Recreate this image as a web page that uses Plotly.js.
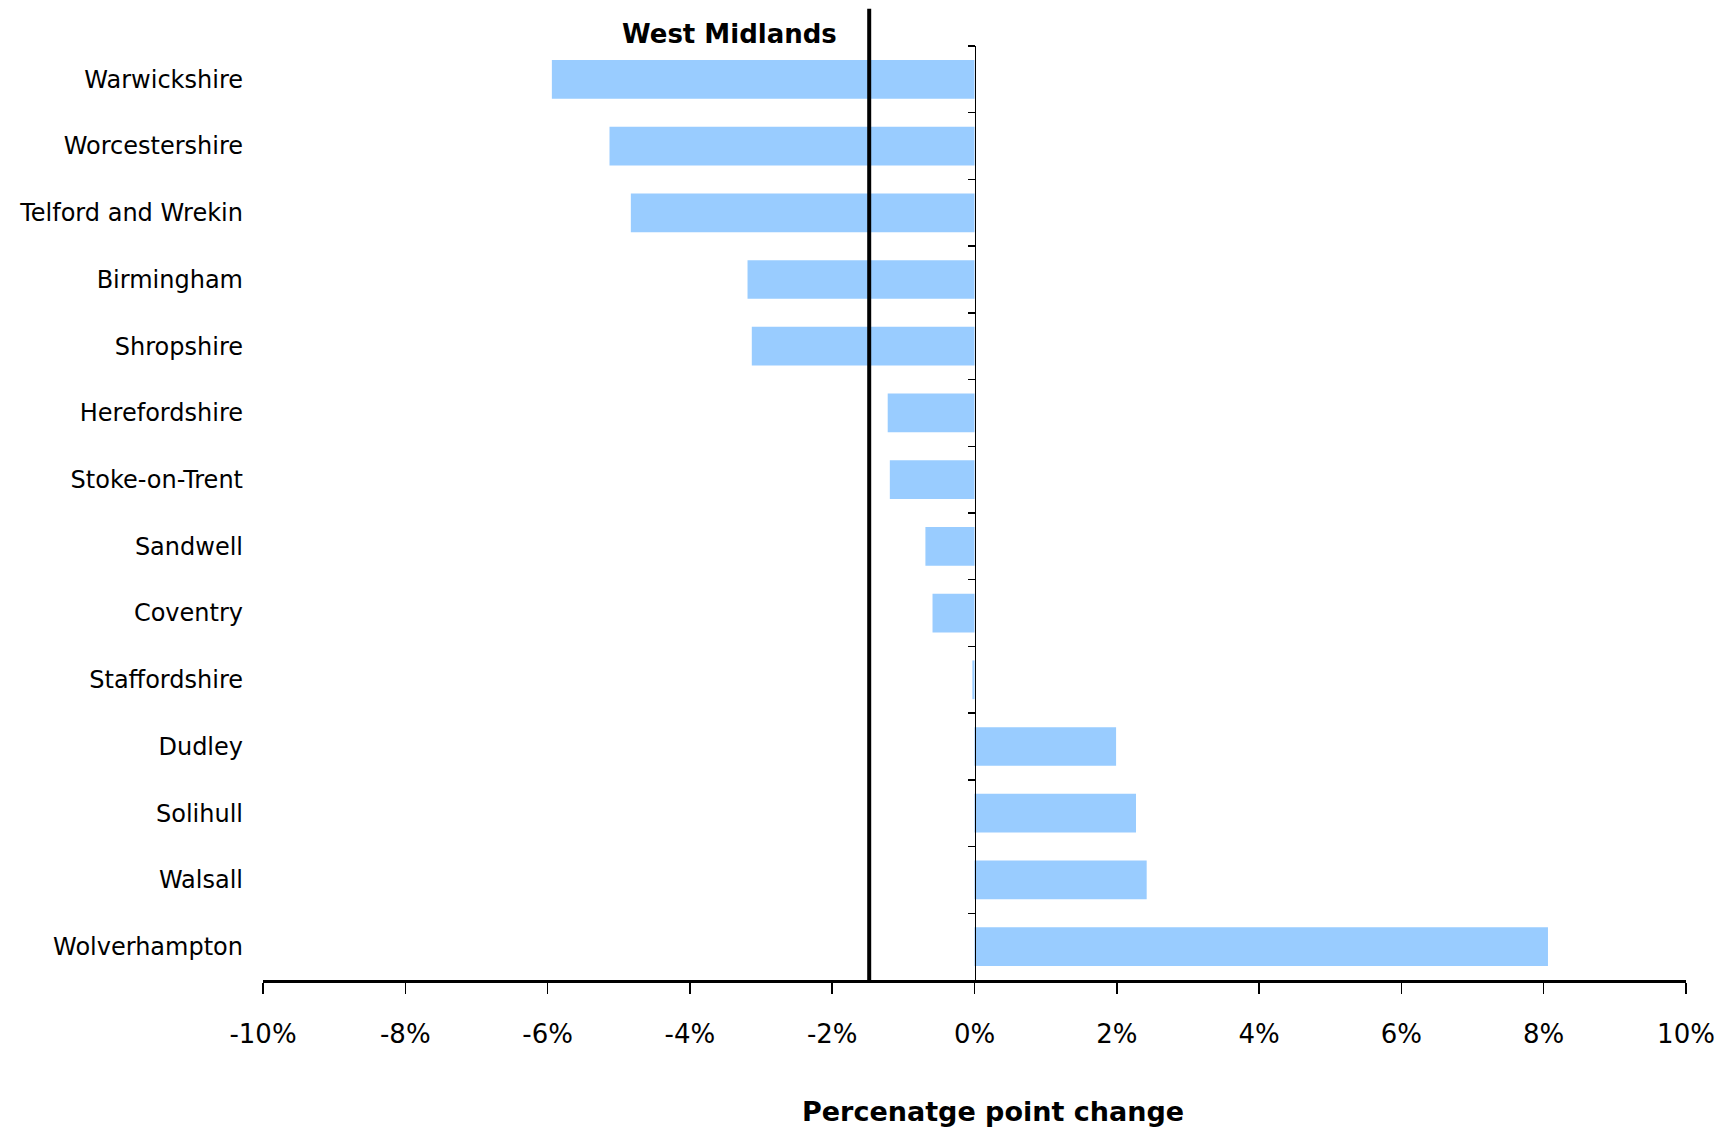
<!DOCTYPE html>
<html>
<head>
<meta charset="utf-8">
<script src="https://cdn.plot.ly/plotly-3.0.1.min.js"></script>
<style>html,body{margin:0;padding:0;background:#fff;}#chart{width:1720px;height:1130px;}</style>
</head>
<body>
<div id="chart"></div>
<script>
const categories = ["Warwickshire","Worcestershire","Telford and Wrekin","Birmingham","Shropshire","Herefordshire","Stoke-on-Trent","Sandwell","Coventry","Staffordshire","Dudley","Solihull","Walsall","Wolverhampton"];
const changeValues = [-5.94,-5.13,-4.83,-3.19,-3.13,-1.22,-1.19,-0.69,-0.59,-0.03,1.99,2.27,2.42,8.06];
const regionName = "West Midlands";
const regionValue = -1.48;
const xTickVals = [-10,-8,-6,-4,-2,0,2,4,6,8,10];
const xTickText = ["-10%","-8%","-6%","-4%","-2%","0%","2%","4%","6%","8%","10%"];
const xTitle = "Percenatge point change";

const FONT = "DejaVu Sans, Verdana, sans-serif";

const traces = [
  {
    type: "bar", orientation: "h",
    x: changeValues, y: categories,
    marker: {color: "#99CCFF", line: {width: 0}},
    width: 0.58,
    hoverinfo: "x+y",
    xaxis: "x", yaxis: "y"
  },
  {
    type: "scatter", mode: "markers",
    x: categories.map(() => 0), y: categories,
    marker: {opacity: 0, size: 1},
    hoverinfo: "skip", showlegend: false,
    xaxis: "x", yaxis: "y2"
  }
];

const layout = {
  width: 1720, height: 1130,
  margin: {l: 263, r: 34, t: 46, b: 150, pad: 0},
  paper_bgcolor: "#ffffff", plot_bgcolor: "#ffffff",
  showlegend: false,
  font: {family: FONT, color: "#000000", size: 22},
  bargap: 0.42,
  xaxis: {
    range: [-10, 10],
    tickvals: xTickVals, ticktext: xTickText,
    ticks: "outside", ticklen: 11, tickwidth: 1.5, tickcolor: "#000",
    showline: true, linewidth: 3, linecolor: "#000",
    showgrid: false, zeroline: false,
    tickfont: {family: FONT, size: 26, color: "#000"},
    ticklabelstandoff: 18,
    fixedrange: true
  },
  yaxis: {
    type: "category",
    categoryorder: "array", categoryarray: categories,
    range: [13.5, -0.5],
    showline: false, ticks: "", showgrid: false, zeroline: false,
    tickfont: {family: FONT, size: 24, color: "#000"},
    ticklabelstandoff: 19,
    fixedrange: true
  },
  yaxis2: {
    type: "category",
    categoryorder: "array", categoryarray: categories,
    range: [13.5, -0.5],
    overlaying: "y", anchor: "free", position: 0.5, side: "left",
    showline: true, linewidth: 1.5, linecolor: "#000",
    ticks: "outside", tickson: "boundaries", ticklen: 7, tickwidth: 1.5, tickcolor: "#000",
    showticklabels: false, showgrid: false, zeroline: false,
    fixedrange: true
  },
  shapes: [
    {type: "line", xref: "x", yref: "paper", x0: regionValue, x1: regionValue, y0: 0, y1: 1.04,
     line: {color: "#000", width: 4}}
  ],
  annotations: [
    {xref: "x", yref: "paper", x: regionValue, y: 1.013, xanchor: "right", yanchor: "middle",
     xshift: -30, text: "<b>" + regionName + "</b>", showarrow: false,
     font: {family: FONT, size: 26, color: "#000"}},
    {xref: "paper", yref: "paper", x: 0.513, y: -0.141, xanchor: "center", yanchor: "middle",
     text: "<b>" + xTitle + "</b>", showarrow: false,
     font: {family: FONT, size: 27, color: "#000"}}
  ]
};

Plotly.newPlot("chart", traces, layout, {displayModeBar: false, staticPlot: true});
</script>
</body>
</html>
